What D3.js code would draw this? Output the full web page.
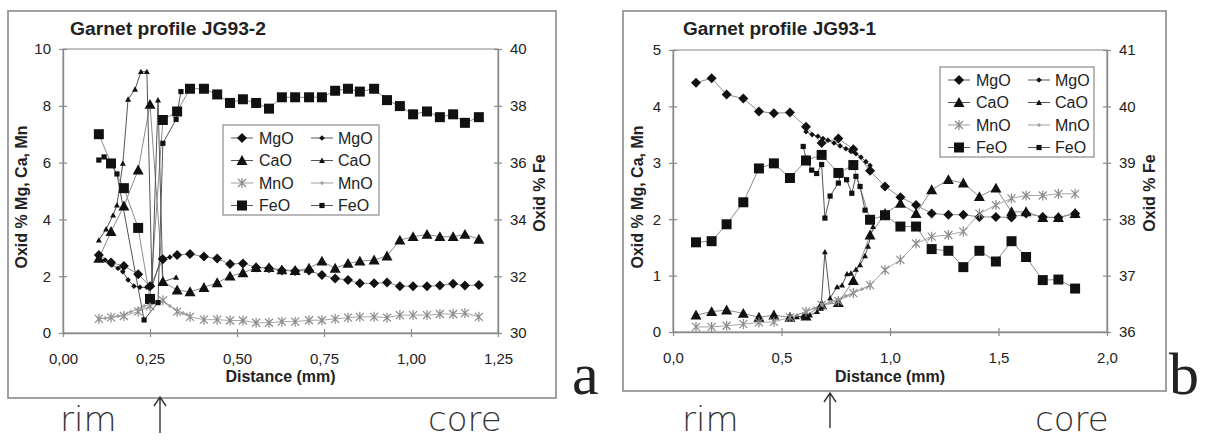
<!DOCTYPE html>
<html><head><meta charset="utf-8">
<script src="https://cdn.jsdelivr.net/npm/d3@7"></script>
<style>
body{margin:0;background:#fff;}
svg{display:block;}
text{font-family:"Liberation Sans",Arial,sans-serif;fill:#222;}
</style>
</head><body>
<svg id="c" width="1217" height="441"></svg>
<script>
// ---------------- DATA: chart a (Garnet profile JG93-2) ----------------
const titleA = "Garnet profile JG93-2";
const xTicksA = [0, 0.25, 0.5, 0.75, 1.0, 1.25];
const yLeftTicksA = [0, 2, 4, 6, 8, 10];
const yRightTicksA = [30, 32, 34, 36, 38, 40];
// big markers (shared distances, mm)
const distA = [0.103,0.138,0.175,0.216,0.25,0.287,0.328,0.365,0.405,0.443,0.48,0.517,0.555,0.592,0.629,0.667,0.707,0.744,0.782,0.819,0.853,0.894,0.931,0.968,1.006,1.046,1.083,1.121,1.155,1.195];
const mgoA = [2.75,2.48,2.36,2.07,1.65,2.6,2.75,2.78,2.69,2.62,2.43,2.45,2.31,2.28,2.2,2.18,2.2,2.04,1.92,1.87,1.75,1.75,1.78,1.65,1.65,1.65,1.67,1.73,1.67,1.69];
const caoA = [2.63,3.57,4.47,5.74,8.05,1.81,1.51,1.45,1.6,1.77,2.0,2.12,2.3,2.3,2.22,2.2,2.28,2.53,2.28,2.45,2.53,2.57,2.71,3.27,3.39,3.47,3.39,3.39,3.47,3.3];
const mnoA = [0.5,0.55,0.6,0.75,0.95,1.15,0.75,0.57,0.47,0.47,0.44,0.44,0.36,0.36,0.4,0.4,0.45,0.45,0.5,0.54,0.57,0.57,0.54,0.63,0.63,0.63,0.67,0.67,0.7,0.57];
const feoA = [37.0,35.97,35.1,33.7,31.2,37.5,37.8,38.6,38.6,38.4,38.1,38.23,38.1,37.9,38.3,38.3,38.3,38.3,38.53,38.6,38.5,38.6,38.2,37.99,37.7,37.8,37.6,37.7,37.4,37.6];
// small markers (rim profile)
const smMgoDistA = [0.103,0.121,0.141,0.158,0.172,0.187,0.204,0.221,0.241,0.256,0.282,0.307];
const smMgoA = [2.63,2.57,2.4,2.28,2.16,1.87,1.65,1.61,1.61,1.65,2.63,2.67];
const smCaoDistA = [0.103,0.124,0.144,0.155,0.172,0.187,0.207,0.224,0.241,0.256,0.273,0.287,0.325];
const smCaoA = [3.27,3.66,4.15,4.5,5.97,8.23,8.58,9.2,9.2,1.7,8.2,1.8,1.96];
const smMnoDistA = [0.103,0.121,0.138,0.158,0.175,0.195,0.216,0.233,0.25,0.27,0.287,0.307,0.328,0.345,0.365];
const smMnoA = [0.5,0.52,0.55,0.6,0.65,0.75,0.85,0.95,1.0,1.08,1.12,0.95,0.8,0.7,0.6];
const smFeoDistA = [0.103,0.118,0.135,0.155,0.233,0.273,0.287,0.325,0.339];
const smFeoA = [36.09,36.2,36.03,35.6,30.46,31.07,36.68,37.52,38.5];

// ---------------- DATA: chart b (Garnet profile JG93-1) ----------------
const titleB = "Garnet profile JG93-1";
const xTicksB = [0, 0.5, 1.0, 1.5, 2.0];
const yLeftTicksB = [0, 1, 2, 3, 4, 5];
const yRightTicksB = [36, 37, 38, 39, 40, 41];
const distB = [0.106,0.178,0.247,0.324,0.396,0.465,0.539,0.613,0.685,0.762,0.831,0.908,0.977,1.048,1.12,1.192,1.269,1.338,1.412,1.488,1.56,1.627,1.704,1.776,1.853];
const mgoB = [4.42,4.5,4.21,4.14,3.91,3.88,3.89,3.64,3.35,3.43,3.24,2.86,2.58,2.39,2.25,2.1,2.08,2.08,2.04,2.04,2.03,2.1,2.04,2.03,2.1];
const caoB = [0.3,0.36,0.39,0.33,0.26,0.3,0.26,0.28,0.48,0.52,0.91,1.72,2.1,2.28,2.1,2.52,2.7,2.64,2.4,2.55,2.13,2.13,2.03,2.03,2.1];
const mnoB = [0.09,0.09,0.11,0.14,0.17,0.18,0.26,0.36,0.48,0.55,0.69,0.83,1.1,1.28,1.57,1.69,1.72,1.78,2.1,2.25,2.37,2.42,2.42,2.45,2.45];
const feoB = [37.59,37.61,37.91,38.3,38.9,38.99,38.73,39.04,39.14,38.82,38.96,37.99,38.07,37.87,37.87,37.47,37.44,37.15,37.44,37.25,37.61,37.33,36.92,36.93,36.77];
const smMgoDistB = [0.613,0.641,0.668,0.691,0.714,0.742,0.77,0.797,0.82,0.843,0.866,0.889,0.908];
const smMgoB = [3.55,3.5,3.47,3.43,3.4,3.35,3.3,3.25,3.2,3.16,3.1,3.02,2.95];
const smCaoDistB = [0.571,0.599,0.631,0.664,0.682,0.7,0.724,0.756,0.779,0.802,0.82,0.843,0.862,0.885,0.899,0.922];
const smCaoB = [0.27,0.28,0.3,0.36,0.42,1.42,0.6,0.8,0.83,1.03,1.04,1.11,1.19,1.35,1.52,1.87];
const smMnoDistB = [0.571,0.613,0.65,0.687,0.724,0.76,0.797,0.834,0.871,0.908];
const smMnoB = [0.3,0.36,0.42,0.48,0.53,0.58,0.64,0.7,0.76,0.83];
const smFeoDistB = [0.6,0.613,0.639,0.662,0.685,0.7,0.724,0.762,0.774,0.8,0.824,0.843,0.862,0.885];
const smFeoB = [39.29,39.08,38.87,38.81,38.97,38.02,38.41,38.64,38.81,38.7,38.46,38.76,38.58,38.16];

const seriesNames = ["MgO", "CaO", "MnO", "FeO"];
const yLeftTitle = "Oxid % Mg, Ca, Mn";
const yRightTitle = "Oxid % Fe";
const xTitle = "Distance (mm)";

// ---------------- DRAWING ----------------
const svg = d3.select("#c");

function markerPath(type, r) {
  switch (type) {
    case "diamond": return `M0,${-r}L${r},0L0,${r}L${-r},0Z`;
    case "triangle": return `M0,${-r}L${r},${r*0.8}L${-r},${r*0.8}Z`;
    case "square": return `M${-r},${-r}H${r}V${r}H${-r}Z`;
    case "star": return `M${-r},${-r}L${r},${r}M${-r},${r}L${r},${-r}M0,${-r*1.25}L0,${r*1.25}`;
    case "dash": return `M${-r},0L${r},0M0,${-r}L0,${r}`;
  }
}
const bigStyle = {
  MgO: {sym: "diamond", r: 5, line: "#8c8c8c"},
  CaO: {sym: "triangle", r: 5.5, line: "#8c8c8c"},
  MnO: {sym: "star", r: 4, line: "#a8a8a8", stroke: "#8a8a8a"},
  FeO: {sym: "square", r: 5, line: "#8c8c8c"}
};
const smallStyle = {
  MgO: {sym: "diamond", r: 2.8, line: "#555"},
  CaO: {sym: "triangle", r: 3, line: "#555"},
  MnO: {sym: "dash", r: 2, line: "#9a9a9a", stroke: "#9a9a9a"},
  FeO: {sym: "square", r: 2.6, line: "#555"}
};

function drawChart(cfg) {
  const g = svg.append("g");
  const [fx0, fy0, fx1, fy1] = cfg.frame;
  g.append("rect").attr("x", fx0).attr("y", fy0).attr("width", fx1 - fx0).attr("height", fy1 - fy0)
    .attr("fill", "none").attr("stroke", "#8a8a8a").attr("stroke-width", 1.6);
  const p = cfg.plot;
  const x = d3.scaleLinear().domain(cfg.xDomain).range([p.x0, p.x1]);
  const yL = d3.scaleLinear().domain(cfg.yLDomain).range([p.y1, p.y0]);
  const yR = d3.scaleLinear().domain(cfg.yRDomain).range([p.y1, p.y0]);
  // plot area border
  g.append("rect").attr("x", p.x0).attr("y", p.y0).attr("width", p.x1 - p.x0).attr("height", p.y1 - p.y0)
    .attr("fill", "none").attr("stroke", "#9a9a9a").attr("stroke-width", 1.2);

  const comma = f => v => d3.format(f)(v).replace(".", ",");
  function styleAxis(sel, orient) {
    sel.select(".domain").attr("stroke", "#8a8a8a").attr("stroke-width", 1.4);
    sel.selectAll(".tick line").attr("stroke", "#8a8a8a").attr("stroke-width", 1.2);
    if (orient === "left") sel.selectAll(".tick line").attr("x1", 4).attr("x2", -4);
    if (orient === "right") sel.selectAll(".tick line").attr("x1", -4).attr("x2", 4);
    if (orient === "bottom") sel.selectAll(".tick line").attr("y1", -4).attr("y2", 4);
    sel.selectAll(".tick text").attr("fill", "#333").style("font-size", "15px")
      .style("font-family", '"Liberation Sans", Arial, sans-serif');
  }
  g.append("g").attr("transform", `translate(0,${p.y1})`)
    .call(d3.axisBottom(x).tickValues(cfg.xTicks).tickFormat(comma(cfg.xFmt)).tickSizeInner(4).tickSizeOuter(0).tickPadding(16))
    .call(s => styleAxis(s, "bottom"));
  g.append("g").attr("transform", `translate(${p.x0},0)`)
    .call(d3.axisLeft(yL).tickValues(cfg.yLTicks).tickFormat(d3.format("d")).tickSizeInner(4).tickSizeOuter(0).tickPadding(8))
    .call(s => styleAxis(s, "left"));
  g.append("g").attr("transform", `translate(${p.x1},0)`)
    .call(d3.axisRight(yR).tickValues(cfg.yRTicks).tickFormat(d3.format("d")).tickSizeInner(4).tickSizeOuter(0).tickPadding(8))
    .call(s => styleAxis(s, "right"));

  // titles
  g.append("text").attr("x", cfg.titleX).attr("y", cfg.titleY).attr("font-weight", "bold")
    .style("font-size", "17.5px").attr("textLength", cfg.titleW).attr("lengthAdjust", "spacingAndGlyphs")
    .text(cfg.title);
  g.append("text").attr("transform", `translate(${cfg.yLabelX},${(p.y0 + p.y1) / 2 + 6}) rotate(-90)`)
    .attr("text-anchor", "middle").attr("font-weight", "bold").style("font-size", "16px").text(yLeftTitle);
  g.append("text").attr("transform", `translate(${cfg.yRLabelX},${(p.y0 + p.y1) / 2 + 2}) rotate(-90)`)
    .attr("text-anchor", "middle").attr("font-weight", "bold").style("font-size", "16px").text(yRightTitle);
  g.append("text").attr("x", (p.x0 + p.x1) / 2).attr("y", cfg.xLabelY).attr("text-anchor", "middle")
    .attr("font-weight", "bold").style("font-size", "16px").text(xTitle);

  const plotG = g.append("g");
  function drawSeries(dist, vals, st, yScale) {
    const pts = dist.map((d, i) => ({x: d, v: vals[i]}));
    plotG.append("path").datum(pts)
      .attr("d", d3.line().x(d => x(d.x)).y(d => yScale(d.v)))
      .attr("fill", "none").attr("stroke", st.line).attr("stroke-width", 1);
    return pts;
  }
  function drawMarkers(pts, st, yScale) {
    plotG.append("g").selectAll("path").data(pts).join("path")
      .attr("transform", d => `translate(${x(d.x)},${yScale(d.v)})`)
      .attr("d", markerPath(st.sym, st.r))
      .attr("fill", st.stroke ? "none" : "#111")
      .attr("stroke", st.stroke || "none")
      .attr("stroke-width", 1.2);
  }
  const layers = [];
  cfg.series.forEach(s => {
    const st = s.small ? smallStyle[s.name] : bigStyle[s.name];
    const ys = s.name === "FeO" ? yR : yL;
    layers.push([drawSeries(s.dist, s.vals, st, ys), st, ys]);
  });
  layers.forEach(l => drawMarkers(l[0], l[1], l[2]));

  // legend
  const L = cfg.legend;
  const lg = g.append("g").attr("transform", `translate(${L.x},${L.y})`);
  lg.append("rect").attr("width", L.w).attr("height", L.h).attr("fill", "#fff")
    .attr("stroke", "#8a8a8a").attr("stroke-width", 1.2);
  seriesNames.forEach((n, i) => {
    const yy = 13 + i * 22.5;
    [[bigStyle[n], 19, 36], [smallStyle[n], 99, 115]].forEach(([st, mx, tx]) => {
      lg.append("line").attr("x1", mx - 11).attr("x2", mx + 11).attr("y1", yy).attr("y2", yy)
        .attr("stroke", st.stroke ? "#a0a0a0" : "#555").attr("stroke-width", 1);
      lg.append("path").attr("transform", `translate(${mx},${yy})`).attr("d", markerPath(st.sym, st.r))
        .attr("fill", st.stroke ? "none" : "#111").attr("stroke", st.stroke || "none").attr("stroke-width", 1.2);
      lg.append("text").attr("x", tx).attr("y", yy + 5.5).style("font-size", "16px").text(n);
    });
  });
}

function seriesSet(dist, mgo, cao, mno, feo, sm) {
  return [
    {name: "MgO", dist: dist, vals: mgo}, {name: "CaO", dist: dist, vals: cao},
    {name: "MnO", dist: dist, vals: mno}, {name: "FeO", dist: dist, vals: feo},
    {name: "MgO", small: true, dist: sm[0], vals: sm[1]}, {name: "CaO", small: true, dist: sm[2], vals: sm[3]},
    {name: "MnO", small: true, dist: sm[4], vals: sm[5]}, {name: "FeO", small: true, dist: sm[6], vals: sm[7]}
  ];
}

drawChart({
  frame: [8, 11, 556, 398], plot: {x0: 63, x1: 498, y0: 49, y1: 333},
  xDomain: [0, 1.25], yLDomain: [0, 10], yRDomain: [30, 40],
  xTicks: xTicksA, yLTicks: yLeftTicksA, yRTicks: yRightTicksA, xFmt: ".2f",
  title: titleA, titleX: 70, titleY: 35, titleW: 196, yLabelX: 27, yRLabelX: 545, xLabelY: 382,
  legend: {x: 223, y: 125, w: 156, h: 90},
  series: seriesSet(distA, mgoA, caoA, mnoA, feoA,
    [smMgoDistA, smMgoA, smCaoDistA, smCaoA, smMnoDistA, smMnoA, smFeoDistA, smFeoA])
});
drawChart({
  frame: [623, 11, 1166, 391], plot: {x0: 673, x1: 1107, y0: 50, y1: 332},
  xDomain: [0, 2], yLDomain: [0, 5], yRDomain: [36, 41],
  xTicks: xTicksB, yLTicks: yLeftTicksB, yRTicks: yRightTicksB, xFmt: ".1f",
  title: titleB, titleX: 683, titleY: 35, titleW: 193, yLabelX: 643, yRLabelX: 1155, xLabelY: 382,
  legend: {x: 940, y: 67, w: 154, h: 90},
  series: seriesSet(distB, mgoB, caoB, mnoB, feoB,
    [smMgoDistB, smMgoB, smCaoDistB, smCaoB, smMnoDistB, smMnoB, smFeoDistB, smFeoB])
});

// annotations: panel letters, rim / core, arrows
const panelLetters = ["a", "b"];
const rimCore = ["rim", "core"];
const ann = svg.append("g");
[[572, 394], [1169, 394]].forEach((pos, i) => {
  ann.append("text").attr("x", pos[0]).attr("y", pos[1])
    .style("font-family", '"Liberation Serif","DejaVu Serif",serif').style("font-size", "60px").style("fill", "#222")
    .text(panelLetters[i]);
});
[[60, 431, 0], [428, 431, 1], [682, 431, 0], [1035, 431, 1]].forEach(a => {
  ann.append("text").attr("x", a[0]).attr("y", a[1])
    .style("font-family", '"DejaVu Sans",sans-serif').style("font-weight", "200").style("font-size", "34px")
    .style("fill", "#333").text(rimCore[a[2]]);
});
[[160, 397, 433], [830, 393, 428]].forEach(a => {
  ann.append("path").attr("d", `M${a[0]},${a[2]}V${a[1]}M${a[0]-6},${a[1]+9}L${a[0]},${a[1]}L${a[0]+6},${a[1]+9}`)
    .attr("fill", "none").attr("stroke", "#333").attr("stroke-width", 1.4);
});
</script>
</body></html>
